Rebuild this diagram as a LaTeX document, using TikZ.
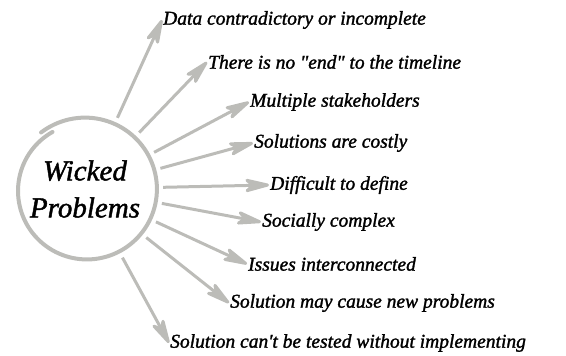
\documentclass[tikz,border=0pt]{standalone}
\usepackage{fontspec}
\setmainfont{Liberation Serif}[Ligatures=TeXOff, ItalicFeatures={FakeBold=1.5}]
\usepackage{tikz}
\usetikzlibrary{arrows.meta,positioning}
\definecolor{ringgray}{RGB}{188,188,184}
\tikzset{
  arr/.style={draw=ringgray, fill=ringgray, line width=3pt,
    -{Stealth[length=32pt,width=16pt,inset=9pt,round=false]}},
  ring/.style={draw=ringgray, line width=4pt, line cap=round},
  lbl/.style={anchor=west, inner sep=1pt, font=\fontsize{19.5}{22}\selectfont\itshape},
  hubnode/.style={circle, minimum size=156pt, inner sep=0pt, align=center,
    font=\fontsize{29}{37}\selectfont\itshape}
}

\begin{document}
\begin{tikzpicture}[x=1pt,y=-1pt]
  \useasboundingbox (0,0) rectangle (566,356);
  \node[hubnode] (hub) at (85,189) {Wicked\\Problems};
  \draw[ring] plot[domain=128:-240, samples=120, smooth]
    ({86+(73-6*(128-\x)/368)*cos(\x)}, {190-(73-6*(128-\x)/368)*sin(\x)});

  \node[lbl] (l1) at (162,20)  {Data contradictory or incomplete};
  \node[lbl] (l2) at (207,62)  {There is no "end" to the timeline};
  \node[lbl] (l3) at (249,102) {Multiple stakeholders};
  \node[lbl] (l4) at (253,143) {Solutions are costly};
  \node[lbl] (l5) at (269,185) {Difficult to define};
  \node[lbl] (l6) at (261,222) {Socially complex};
  \node[lbl] (l7) at (247,264) {Issues interconnected};
  \node[lbl] (l8) at (229,303) {Solution may cause new problems};
  \node[lbl] (l9) at (169,343) {Solution can't be tested without implementing};

  \draw[arr] (hub) -- (l1.west);
  \draw[arr] (hub) -- (l2.west);
  \draw[arr] (hub) -- (l3.west);
  \draw[arr] (hub) -- (l4.west);
  \draw[arr] (hub) -- (l5.west);
  \draw[arr] (hub) -- (l6.west);
  \draw[arr] (hub) -- (l7.west);
  \draw[arr] (hub) -- (l8.west);
  \draw[arr] (hub) -- (l9.west);
\end{tikzpicture}
\end{document}
